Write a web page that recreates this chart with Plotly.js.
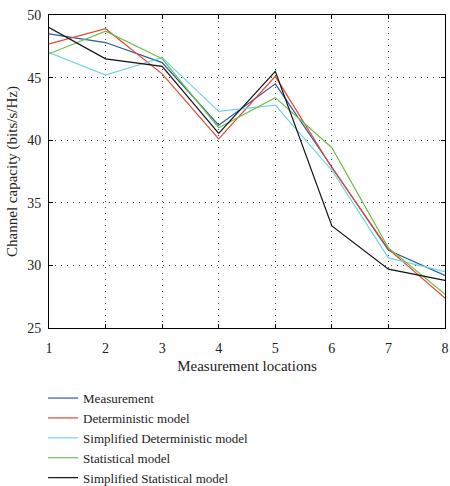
<!DOCTYPE html>
<html>
<head>
<meta charset="utf-8">
<script src="https://cdn.plot.ly/plotly-3.0.1.min.js"></script>
<style>html,body{margin:0;padding:0;background:#fff;}#chart{width:450px;height:486px;}</style>
</head>
<body>
<div id="chart"></div>
<script>
const locations = [1, 2, 3, 4, 5, 6, 7, 8];
const measurement = [48.5, 47.8, 46.2, 41.2, 44.5, 37.8, 31.2, 29.2];
const deterministic = [47.7, 48.9, 45.3, 40.1, 45.1, 37.8, 31.3, 27.4];
const simplifiedDeterministic = [47.0, 45.2, 46.6, 42.3, 42.8, 37.6, 30.6, 29.5];
const statistical = [46.9, 48.7, 46.5, 41.0, 43.4, 39.4, 31.4, 27.7];
const simplifiedStatistical = [49.0, 46.5, 45.9, 40.55, 45.5, 33.15, 29.7, 28.8];

const seriesNames = ["Measurement", "Deterministic model", "Simplified Deterministic model", "Statistical model", "Simplified Statistical model"];
const seriesData = [measurement, deterministic, simplifiedDeterministic, statistical, simplifiedStatistical];
const colors = ["#2a5ba8", "#e8452c", "#72d4e2", "#6cbf4a", "#111111"];

const traces = seriesData.map((d, i) => ({
  x: locations, y: d, type: "scatter", mode: "lines", name: seriesNames[i],
  line: {color: colors[i], width: 1.2}
}));

const font = "Liberation Serif, Times New Roman, serif";
const axisCommon = {
  showline: true, linecolor: "#000", linewidth: 1, mirror: "allticks",
  ticks: "inside", ticklen: 4, tickcolor: "#000",
  showgrid: true, gridcolor: "#444", griddash: "1px,5px", gridwidth: 1,
  zeroline: false, tickfont: {family: font, size: 14, color: "#222"}
};
const layout = {
  width: 450, height: 486,
  margin: {l: 49, r: 5, t: 15, b: 158, autoexpand: false},
  paper_bgcolor: "#fff", plot_bgcolor: "#fff",
  font: {family: font, color: "#222"},
  xaxis: Object.assign({}, axisCommon, {range: [1, 8], dtick: 1, ticklabelstandoff: 7,
    title: {text: "Measurement locations", font: {family: font, size: 15}, standoff: 5}}),
  yaxis: Object.assign({}, axisCommon, {range: [25, 50], dtick: 5, ticklabelstandoff: 4,
    title: {text: "Channel capacity (bits/s/Hz)", font: {family: font, size: 15}, standoff: 5}}),
  showlegend: true,
  legend: {x: -0.015, y: -0.176, xanchor: "left", yanchor: "top",
    font: {family: font, size: 13, color: "#222"}, bgcolor: "rgba(0,0,0,0)"}
};
Plotly.newPlot("chart", traces, layout, {displayModeBar: false, staticPlot: true});
</script>
</body>
</html>
